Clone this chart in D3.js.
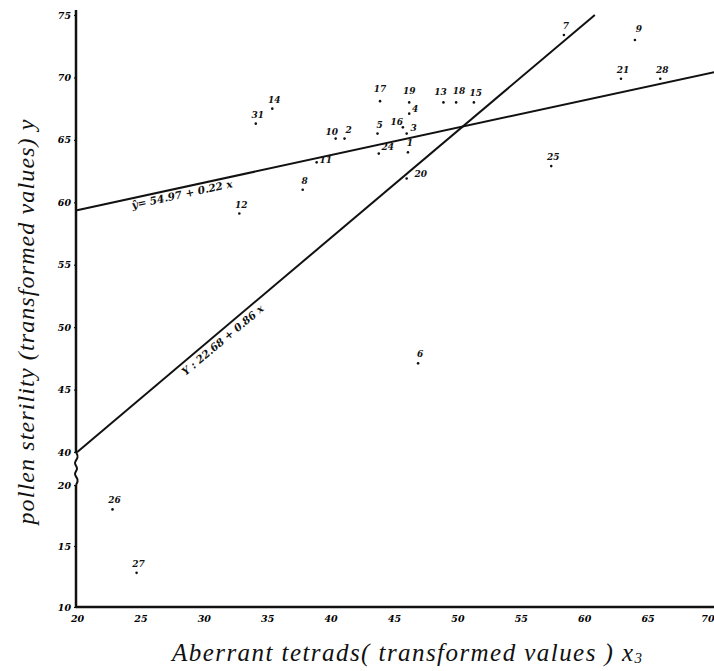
<!DOCTYPE html>
<html>
<head>
<meta charset="utf-8">
<script src="https://cdn.jsdelivr.net/npm/d3@7"></script>
<style>
  body { margin: 0; background: #fff; }
  svg { display: block; }
  .tick text { font-family: "DejaVu Serif", serif; font-style: italic; font-weight: bold; font-size: 9.5px; }
</style>
</head>
<body>
<div id="chart"></div>
<script>
// point numbers, aberrant tetrads (x3) and pollen sterility (y), transformed values
var ids = [1, 2, 3, 4, 5, 6, 7, 8, 9, 10, 11, 12, 13, 14, 15, 16, 17, 18, 19, 20, 21, 24, 25, 26, 27, 28, 31];
var xVals = [46.1, 41.1, 46.0, 46.2, 43.7, 46.9, 58.4, 37.8, 64.0, 40.4, 38.9, 32.8, 48.9, 35.4, 51.3, 45.7, 43.9, 49.9, 46.2, 46.0, 62.9, 43.8, 57.4, 22.8, 24.7, 66.0, 34.1];
var yVals = [64.0, 65.1, 65.5, 67.1, 65.5, 47.1, 73.4, 61.0, 73.0, 65.1, 63.2, 59.1, 68.0, 67.5, 68.0, 66.0, 68.1, 68.0, 68.0, 61.9, 69.9, 63.9, 62.9, 18.0, 12.8, 69.9, 66.3];

var xTicks = [20, 25, 30, 35, 40, 45, 50, 55, 60, 65, 70];
var yTicks = [10, 15, 20, 40, 45, 50, 55, 60, 65, 70, 75];

// regression lines: y = a + b x
var fit1 = { a: 54.97, b: 0.22, label: "ŷ= 54.97 + 0.22 x" };
var fit2 = { a: 22.68, b: 0.86, label: "Y : 22.68 + 0.86 x" };

// label nudges for crowded points
var labelShift = { 4: [6, -5], 16: [-6, -5], 3: [7, -6], 24: [9, -7], 11: [9, -2], 20: [14, -5],
    17: [0, -12], 19: [0, -11], 9: [4, -11], 10: [-4, -7], 2: [4, -9], 13: [-3, -10], 18: [3, -11] };

var W = 714, H = 671;
var svg = d3.select("#chart").append("svg").attr("width", W).attr("height", H);

var x = d3.scaleLinear().domain([20, 70]).range([77, 711]);
// broken y axis: 20..40 squeezed into a short gap
var y = d3.scaleLinear().domain([10, 20, 40, 75]).range([607, 485, 452, 15]);

var ink = "#111";

// axes
var xAxis = svg.append("g")
    .attr("transform", "translate(0," + y(10) + ")")
    .call(d3.axisBottom(x).tickValues(xTicks).tickSize(0).tickPadding(8));
xAxis.select(".domain").remove();
// last label sits on the page edge
xAxis.selectAll(".tick text").filter(function (d) { return d === 70; }).attr("text-anchor", "end").attr("dx", 3);

var yAxis = svg.append("g")
    .attr("transform", "translate(" + x(20) + ",0)")
    .call(d3.axisLeft(y).tickValues(yTicks).tickSize(3).tickPadding(3));
yAxis.select(".domain").remove();
yAxis.selectAll(".tick line").attr("stroke", ink).attr("stroke-width", 1.2);

svg.append("line")
    .attr("x1", x(20) - 1).attr("x2", W)
    .attr("y1", y(10)).attr("y2", y(10))
    .attr("stroke", ink).attr("stroke-width", 2.5);

svg.append("line")
    .attr("x1", x(20) - 1).attr("x2", x(20) - 1)
    .attr("y1", y(75) - 5).attr("y2", y(40))
    .attr("stroke", ink).attr("stroke-width", 2.5);
svg.append("line")
    .attr("x1", x(20) - 1).attr("x2", x(20) - 1)
    .attr("y1", y(20)).attr("y2", y(10))
    .attr("stroke", ink).attr("stroke-width", 2.5);

// wavy break between 40 and 20
var y0 = y(40), y1 = y(20), n = 6, wave = [];
for (var i = 0; i <= n; i++) {
    wave.push([x(20) - 1 + (i === 0 || i === n ? 0 : (i % 2 ? 3 : -3)), y0 + (y1 - y0) * i / n]);
}
svg.append("path")
    .attr("d", d3.line().curve(d3.curveBasis)(wave))
    .attr("fill", "none").attr("stroke", ink).attr("stroke-width", 2);

// regression lines
function fitLine(f, xa, xb) {
    return d3.line().x(function (d) { return x(d); }).y(function (d) { return y(f.a + f.b * d); })([xa, xb]);
}
svg.append("path").attr("d", fitLine(fit1, 20, 70.25))
    .attr("stroke", ink).attr("stroke-width", 2).attr("fill", "none");
svg.append("path").attr("d", fitLine(fit2, 20, (75 - fit2.a) / fit2.b))
    .attr("stroke", ink).attr("stroke-width", 2).attr("fill", "none");

function angle(f) {
    var dx = x(30) - x(20), dy = y(f.a + f.b * 30) - y(f.a + f.b * 20);
    return Math.atan2(dy, dx) * 180 / Math.PI;
}
function fitText(f, xv, off) {
    var px = x(xv), py = y(f.a + f.b * xv);
    svg.append("text")
        .attr("transform", "translate(" + px + "," + py + ")rotate(" + angle(f) + ")translate(0," + off + ")")
        .style("font-family", "DejaVu Serif, serif")
        .style("font-style", "italic")
        .style("font-weight", "bold")
        .style("font-size", "10.5px")
        .attr("fill", ink)
        .text(f.label);
}
fitText(fit1, 24.2, 10.5);
fitText(fit2, 28.0, 11);

// points
var pts = ids.map(function (id, i) { return { id: id, x: xVals[i], y: yVals[i] }; });

svg.selectAll(".dot")
    .data(pts)
    .enter().append("circle")
    .attr("class", "dot")
    .attr("cx", function (d) { return x(d.x); })
    .attr("cy", function (d) { return y(d.y); })
    .attr("r", 1.3)
    .attr("fill", ink);

svg.selectAll(".lbl")
    .data(pts)
    .enter().append("text")
    .attr("class", "lbl")
    .attr("x", function (d) { return x(d.x) + (labelShift[d.id] ? labelShift[d.id][0] : 2); })
    .attr("y", function (d) { return y(d.y) + (labelShift[d.id] ? labelShift[d.id][1] : -9); })
    .attr("text-anchor", "middle")
    .attr("dominant-baseline", "central")
    .style("font-family", "DejaVu Serif, serif")
    .style("font-style", "italic")
    .style("font-weight", "bold")
    .style("font-size", "9px")
    .attr("fill", ink)
    .text(function (d) { return d.id; });

// axis titles
svg.append("text")
    .attr("transform", "translate(34,322)rotate(-90)")
    .attr("text-anchor", "middle")
    .attr("textLength", 405)
    .attr("lengthAdjust", "spacing")
    .style("font-family", "Liberation Serif, serif")
    .style("font-style", "italic")
    .style("font-size", "24px")
    .attr("fill", ink)
    .text("pollen  sterility (transformed values)  y");

var xt = svg.append("text")
    .attr("x", 172)
    .attr("y", 661)
    .attr("textLength", 470)
    .attr("lengthAdjust", "spacing")
    .style("font-family", "Liberation Serif, serif")
    .style("font-style", "italic")
    .style("font-size", "25px")
    .attr("fill", ink);
xt.append("tspan").text("Aberrant   tetrads( transformed  values ) x");
xt.append("tspan").attr("dy", 2).style("font-size", "15px").text("3");
</script>
</body>
</html>
